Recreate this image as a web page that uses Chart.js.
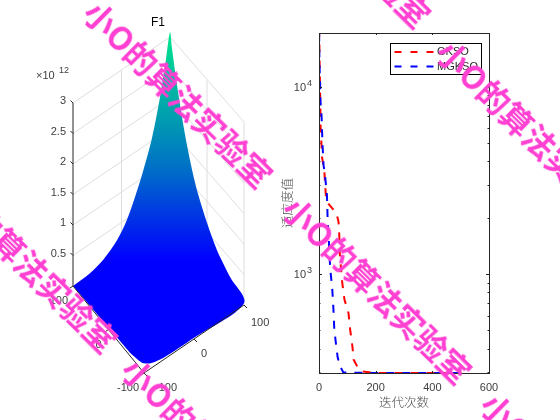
<!DOCTYPE html>
<html>
<head>
<meta charset="utf-8">
<script src="https://cdn.jsdelivr.net/npm/chart.js@4/dist/chart.umd.min.js"></script>
<style>
    html, body { margin: 0; padding: 0; background: #fff; overflow: hidden; }
    #page { position: relative; width: 560px; height: 420px; overflow: hidden; }
    canvas { position: absolute; top: 0; }
    .mark {
        position: absolute;
        transform: translate(-50%, -50%) rotate(44.5deg);
        font: 700 32px "Noto Sans CJK SC", sans-serif;
        color: #ff40d2;
        white-space: nowrap;
        line-height: 1;
    }
</style>
</head>
<body>
<div id="page">
    <canvas id="surfaceChart" width="280" height="420" style="left:0"></canvas>
    <canvas id="curveChart" width="280" height="420" style="left:280px"></canvas>
</div>
<script>
// Surface edges (z in units of 1e12)
const edgeV = [-100, -65, -38, -9, 11, 28, 44, 63, 79, 92, 100];
const edgeVHighZ = [0, 0.02, 0.09, 0.26, 0.48, 0.77, 1.09, 1.55, 2.11, 2.7, 3.08];
const edgeU = [95, 81, 59, 38, 24, 0, -27, -62, -100];
const edgeUHighZ = [2.87, 2.34, 1.67, 1.19, 0.95, 0.65, 0.39, 0.2, 0.03];
const frontLeftU = [-60, -85, -100];
const frontLeftZ = [0.05, 0.1, 0.16];
const frontRightV = [-85, -60, 0];
const frontRightZ = [0.08, 0.03, 0.02];

const zTicks = [0.5, 1, 1.5, 2, 2.5, 3];
const uTicks = [-100, 0, 100];
const vTicks = [-100, 0, 100];

// Convergence curves
const gksoIter = [1, 2, 3, 4, 5, 5.5, 11, 19, 25, 30, 51, 61, 69, 72, 73, 82, 90, 104, 110, 118, 122, 136, 150, 200, 500];
const gksoFit = [19000, 13800, 11450, 9280, 7530, 6190, 4180, 3520, 2495, 2400, 2206, 2125, 1900, 1560, 1300, 898, 729, 620, 505, 410, 350, 318, 302, 296, 296];
const mgksoIter = [0.5, 1, 2, 4, 5, 9, 11, 13, 16, 22, 28, 31, 35, 37, 41, 47, 51, 54, 61, 66, 75, 86, 200, 500];
const mgksoFit = [19300, 15600, 12650, 10500, 8520, 7000, 5700, 4720, 3830, 3270, 2650, 1840, 1490, 1235, 1018, 823, 645, 505, 410, 358, 320, 298, 296, 296];
const xTicks = [0, 200, 400, 600];
const yTicks = [300, 400, 500, 600, 700, 800, 900, 1000, 2000, 3000, 4000, 5000, 6000, 7000, 8000, 9000, 10000];
const yMajor = { 1000: '3', 10000: '4' };

const watermarkText = '小O的算法实验室';
const axisInk = '#262626';
const fontFamily = '"Liberation Sans", Arial, sans-serif';

// View of the 3d box: screen position of the four floor corners and z scale
const corner = {
    front: [144, 373], left: [73, 286], right: [244, 305], back: [170, 220]
};
const pxPerZ = 61;

function project(u, v, z) {
    const a = (u + 100) / 200;
    const b = (v + 100) / 200;
    const lowX = corner.front[0] + (corner.right[0] - corner.front[0]) * b;
    const lowY = corner.front[1] + (corner.right[1] - corner.front[1]) * b;
    const highX = corner.left[0] + (corner.back[0] - corner.left[0]) * b;
    const highY = corner.left[1] + (corner.back[1] - corner.left[1]) * b;
    return { x: lowX + (highX - lowX) * a, y: lowY + (highY - lowY) * a - z * pxPerZ };
}

function surfaceOutline() {
    const pts = [];
    edgeV.forEach((v, i) => pts.push(project(100, v, edgeVHighZ[i])));
    edgeU.forEach((u, i) => pts.push(project(u, 100, edgeUHighZ[i])));
    pts.push(project(-100, frontRightV[2], frontRightZ[2]));
    pts.push(project(-100, frontRightV[1], frontRightZ[1]));
    pts.push(project(-100, frontRightV[0], frontRightZ[0]));
    pts.push(project(frontLeftU[2], -100, frontLeftZ[2]));
    pts.push(project(frontLeftU[1], -100, frontLeftZ[1]));
    pts.push(project(frontLeftU[0], -100, frontLeftZ[0]));
    return pts;
}

function gridDatasets() {
    const sets = [];
    const line = (pts) => sets.push({
        data: pts, showLine: true, borderColor: '#dedede', borderWidth: 1,
        pointRadius: 0, fill: false, tension: 0, order: 3
    });
    zTicks.forEach((z) => {
        line([project(100, -100, z), project(100, 100, z), project(-100, 100, z)]);
    });
    line([project(100, 0, 0), project(100, 0, 3)]);
    line([project(0, 100, 0), project(0, 100, 3)]);
    line([project(-100, 100, 0), project(-100, 100, 3)]);
    line([project(100, 100, 0), project(100, 100, 3)]);
    return sets;
}

function surfaceGradient(context) {
    const chart = context.chart;
    if (!chart.chartArea) return '#0000ff';
    const yScale = chart.scales.y;
    const g = chart.ctx.createLinearGradient(0, yScale.getPixelForValue(260), 0, yScale.getPixelForValue(32));
    g.addColorStop(0, '#0000ff');
    g.addColorStop(0.22, '#003ce1');
    g.addColorStop(0.395, '#006ec8');
    g.addColorStop(0.7, '#00ada8');
    g.addColorStop(1, '#00e68c');
    return g;
}

const surfaceAxes = {
    id: 'surfaceAxes',
    afterDatasetsDraw(chart) {
        const ctx = chart.ctx;
        const sx = chart.scales.x;
        const sy = chart.scales.y;
        const at = (p) => [sx.getPixelForValue(p.x), sy.getPixelForValue(p.y)];
        const stroke = (a, b) => {
            ctx.beginPath();
            ctx.moveTo(a[0], a[1]);
            ctx.lineTo(b[0], b[1]);
            ctx.stroke();
        };
        const text = (str, pos, align) => {
            ctx.textAlign = align || 'center';
            ctx.fillText(str, pos[0], pos[1]);
        };
        ctx.save();
        ctx.strokeStyle = axisInk;
        ctx.fillStyle = '#404040';
        ctx.lineWidth = 1;
        ctx.font = '11px ' + fontFamily;
        ctx.textBaseline = 'middle';

        // z axis
        stroke(at(project(100, -100, 0)), at(project(100, -100, 3)));
        zTicks.forEach((z) => {
            const p = at(project(100, -100, z));
            stroke(p, [p[0] - 2.5, p[1] - 2.5]);
            text(String(z), [p[0] - 7, p[1] - 2], 'right');
        });
        text('\u00D710', [36, 76], 'left');
        ctx.font = '9px ' + fontFamily;
        text('12', [59, 71], 'left');
        ctx.font = '11px ' + fontFamily;

        // floor axes
        stroke(at(project(100, -100, 0)), at(project(-100, -100, 0)));
        stroke(at(project(-100, -100, 0)), at(project(-100, 100, 0)));
        uTicks.forEach((u) => {
            const p = at(project(u, -100, 0));
            stroke(p, [p[0] - 3, p[1] + 2]);
            text(String(u), [p[0] - (u === 0 ? 7 : 5), p[1] + 15], 'right');
        });
        vTicks.forEach((v) => {
            const p = at(project(-100, v, 0));
            stroke(p, [p[0] + 3, p[1] + 3]);
            text(String(v), [p[0] + (v === -100 ? 11 : 7), p[1] + (v === 100 ? 18 : 15)], 'left');
        });

        ctx.fillStyle = '#000';
        ctx.font = '12px ' + fontFamily;
        text('F1', [158, 23]);
        ctx.restore();
    }
};

new Chart(document.getElementById('surfaceChart'), {
    type: 'scatter',
    data: {
        datasets: [
            {
                data: surfaceOutline(),
                showLine: true,
                fill: 'shape',
                tension: 0.3,
                borderWidth: 0,
                pointRadius: 0,
                backgroundColor: surfaceGradient,
                order: 1
            },
            ...gridDatasets()
        ]
    },
    options: {
        responsive: false,
        animation: false,
        layout: { padding: 0 },
        plugins: { legend: { display: false }, tooltip: { enabled: false } },
        scales: {
            x: { display: false, min: 0, max: 280 },
            y: { display: false, min: 0, max: 420, reverse: true }
        }
    },
    plugins: [surfaceAxes]
});

const curveFrame = {
    id: 'curveFrame',
    afterDraw(chart) {
        const ctx = chart.ctx;
        const a = chart.chartArea;
        const sx = chart.scales.x;
        const sy = chart.scales.y;
        ctx.save();
        ctx.strokeStyle = axisInk;
        ctx.lineWidth = 1;
        ctx.strokeRect(a.left + 0.5, a.top + 0.5, a.width, a.height);
        ctx.beginPath();
        xTicks.forEach((t) => {
            const x = Math.round(sx.getPixelForValue(t)) + 0.5;
            ctx.moveTo(x, a.bottom); ctx.lineTo(x, a.bottom - 2);
            ctx.moveTo(x, a.top); ctx.lineTo(x, a.top + 2);
        });
        yTicks.forEach((t) => {
            const y = Math.round(sy.getPixelForValue(t)) + 0.5;
            const len = yMajor[t] ? 3 : 1.5;
            ctx.moveTo(a.left, y); ctx.lineTo(a.left + len, y);
            ctx.moveTo(a.right, y); ctx.lineTo(a.right - len, y);
        });
        ctx.stroke();

        // decade labels with a raised exponent
        ctx.fillStyle = '#404040';
        ctx.textBaseline = 'middle';
        Object.keys(yMajor).forEach((t) => {
            const y = sy.getPixelForValue(Number(t));
            ctx.textAlign = 'right';
            ctx.font = '11px ' + fontFamily;
            ctx.fillText('10', 26, y + 1);
            ctx.textAlign = 'left';
            ctx.font = '9px ' + fontFamily;
            ctx.fillText(yMajor[t], 27, y - 3);
        });

        // legend box
        const boxX = 110.5, boxY = 43.5, boxW = 91, boxH = 31;
        ctx.fillStyle = '#fff';
        ctx.fillRect(boxX, boxY, boxW, boxH);
        ctx.strokeStyle = '#000';
        ctx.strokeRect(boxX, boxY, boxW, boxH);
        ctx.font = '11px ' + fontFamily;
        ctx.textAlign = 'left';
        chart.data.datasets.forEach((d, i) => {
            const y = boxY + 8.5 + i * 14.5;
            ctx.strokeStyle = d.borderColor;
            ctx.lineWidth = d.borderWidth;
            ctx.setLineDash([7, 9]);
            ctx.beginPath();
            ctx.moveTo(boxX + 4, y);
            ctx.lineTo(boxX + 43, y);
            ctx.stroke();
            ctx.setLineDash([]);
            ctx.fillStyle = '#262626';
            ctx.fillText(d.label, boxX + 46.5, y);
        });
        ctx.restore();
    }
};

function toPoints(xs, ys) {
    return xs.map((x, i) => ({ x: x, y: ys[i] }));
}

new Chart(document.getElementById('curveChart'), {
    type: 'scatter',
    data: {
        datasets: [
            {
                label: 'GKSO',
                data: toPoints(gksoIter, gksoFit),
                showLine: true,
                borderColor: '#ff0000',
                borderWidth: 2,
                borderDash: [8, 8],
                borderDashOffset: 6,
                pointRadius: 0,
                tension: 0,
                order: 2
            },
            {
                label: 'MGKSO',
                data: toPoints(mgksoIter, mgksoFit),
                showLine: true,
                borderColor: '#0000ff',
                borderWidth: 2,
                borderDash: [8, 8],
                pointRadius: 0,
                tension: 0,
                order: 1
            }
        ]
    },
    options: {
        responsive: false,
        animation: false,
        layout: { padding: { left: 0, right: 71, top: 33, bottom: 0 } },
        plugins: { legend: { display: false }, tooltip: { enabled: false } },
        scales: {
            x: {
                type: 'linear',
                min: 0,
                max: 600,
                afterFit(scale) { scale.height = 47; },
                afterBuildTicks(scale) { scale.ticks = xTicks.map((v) => ({ value: v })); },
                grid: { display: false },
                border: { display: false },
                ticks: { color: '#404040', font: { family: fontFamily, size: 11 }, padding: 0, maxRotation: 0 },
                title: {
                    display: true,
                    text: '迭代次数',
                    color: '#505050',
                    font: { family: '"Noto Sans CJK SC"', size: 12.5, weight: 300 },
                    padding: { top: 2, bottom: 10 }
                }
            },
            y: {
                type: 'logarithmic',
                min: 296,
                max: 19370,
                afterFit(scale) { scale.width = 39; },
                afterBuildTicks(scale) { scale.ticks = yTicks.map((v) => ({ value: v })); },
                grid: { display: false },
                border: { display: false },
                ticks: { display: false },
                title: {
                    display: true,
                    text: '适应度值',
                    color: '#505050',
                    font: { family: '"Noto Sans CJK SC"', size: 12.5, weight: 300 },
                    padding: 0
                }
            }
        }
    },
    plugins: [curveFrame]
});

// Watermark repeats across the whole picture, on top of both plots
const watermarkSpots = [[179, 93], [24, 258], [217, 450], [378, 289], [337, -67], [532, 132], [576, 485]];
watermarkSpots.forEach((spot) => {
    const el = document.createElement('div');
    el.className = 'mark';
    el.textContent = watermarkText;
    el.style.left = spot[0] + 'px';
    el.style.top = spot[1] + 'px';
    document.getElementById('page').appendChild(el);
});
</script>
</body>
</html>
